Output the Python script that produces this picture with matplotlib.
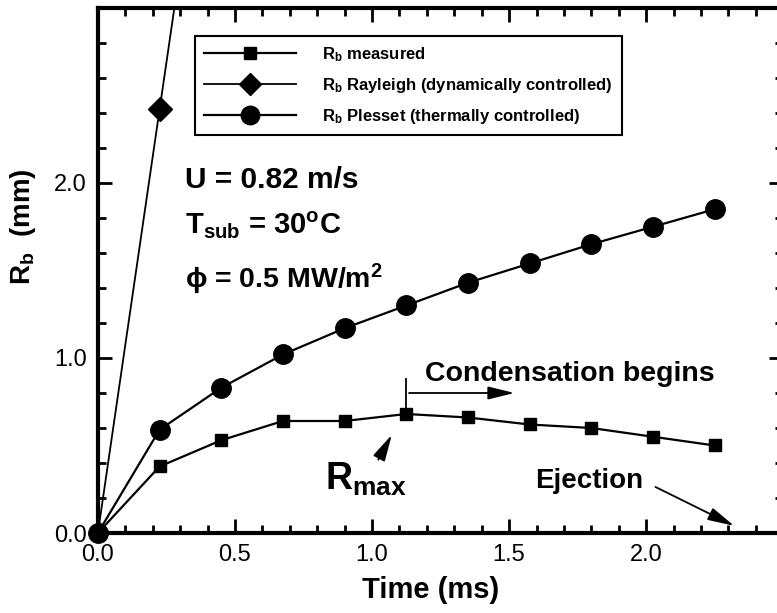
import numpy as np
import matplotlib
matplotlib.use('Agg')
import matplotlib.pyplot as plt
from matplotlib import font_manager
from matplotlib.ticker import MultipleLocator, FormatStrFormatter

# data
time_ms = [0.0, 0.225, 0.45, 0.675, 0.9, 1.125, 1.35, 1.575, 1.8, 2.025, 2.25]
rb_measured = [0.0, 0.38, 0.53, 0.64, 0.64, 0.68, 0.66, 0.62, 0.60, 0.55, 0.50]
rb_plesset = [0.0, 0.59, 0.83, 1.02, 1.17, 1.30, 1.43, 1.54, 1.65, 1.75, 1.85]
time_rayleigh = [0.0, 0.225, 0.45]
rb_rayleigh = [0.0, 2.42, 4.84]

legend_labels = [r'R$_\mathbf{b}$ measured',
                 r'R$_\mathbf{b}$ Rayleigh (dynamically controlled)',
                 r'R$_\mathbf{b}$ Plesset (thermally controlled)']

# pick a narrow sans if there is one
names = {f.name for f in font_manager.fontManager.ttflist}
FONT = 'Liberation Sans Narrow' if 'Liberation Sans Narrow' in names else 'Liberation Sans'
plt.rcParams['font.family'] = [FONT, 'DejaVu Sans']
plt.rcParams['mathtext.fontset'] = 'custom'
plt.rcParams['mathtext.rm'] = FONT
plt.rcParams['mathtext.bf'] = FONT + ':bold'
plt.rcParams['mathtext.it'] = FONT + ':italic'

fig = plt.figure(figsize=(7.77, 6.13), dpi=100)
ax = fig.add_axes([0.126, 0.1305, 1.008 - 0.126, 0.987 - 0.1305])

l1, = ax.plot(time_ms, rb_measured, 'k-', marker='s', ms=9, lw=1.6, clip_on=False, zorder=4)
l2, = ax.plot(time_rayleigh, rb_rayleigh, 'k-', marker='D', ms=12, lw=1.3, zorder=3)
l3, = ax.plot(time_ms, rb_plesset, 'k-', marker='o', ms=14, lw=1.6, clip_on=False, zorder=5)

ax.set_xlim(0, 2.5)
ax.set_ylim(0, 3.0)
ax.set_xticks([0.0, 0.5, 1.0, 1.5, 2.0])
ax.set_yticks([0.0, 1.0, 2.0])
ax.xaxis.set_major_formatter(FormatStrFormatter('%.1f'))
ax.yaxis.set_major_formatter(FormatStrFormatter('%.1f'))
ax.xaxis.set_minor_locator(MultipleLocator(0.1))
ax.yaxis.set_minor_locator(MultipleLocator(0.2))
ax.tick_params(which='both', direction='in', top=True, right=True, width=2)
ax.tick_params(which='major', length=10, labelsize=17, pad=8)
ax.tick_params(which='minor', length=6)
for s in ax.spines.values():
    s.set_linewidth(3)

ax.set_xlabel('Time (ms)', fontsize=21, fontweight='bold')
ax.set_ylabel(r'$\mathbf{R_b}$  (mm)', fontsize=20, fontweight='bold')
ax.xaxis.set_label_coords(0.485, -0.082)
ax.yaxis.set_label_coords(-0.087, 0.583)

leg = ax.legend([l1, l2, l3], legend_labels, loc='upper left',
                bbox_to_anchor=(0.1416, 0.947), borderaxespad=0,
                prop={'size': 12, 'weight': 'bold'},
                frameon=True, fancybox=False, framealpha=1, edgecolor='k',
                handlelength=5.5, handletextpad=1.6, labelspacing=0.72,
                borderpad=0.55, markerscale=0.95)
leg.get_frame().set_linewidth(1.5)

# parameters
ax.text(0.318, 1.97, 'U = 0.82 m/s', fontsize=21.5, fontweight='bold')
ax.text(0.318, 1.71, r'T$_\mathbf{sub}$ = 30$^\mathbf{o}$C', fontsize=21, fontweight='bold')
ax.text(0.318, 1.40, 'ϕ = 0.5 MW/m$^\mathbf{2}$', fontsize=20.5, fontweight='bold')

# condensation marker
ax.plot([1.125, 1.125], [0.69, 0.88], 'k-', lw=1.3)
ax.annotate('', xy=(1.53, 0.80), xytext=(1.125, 0.80),
            arrowprops=dict(arrowstyle='-|>,head_length=0.9,head_width=0.22', lw=1.3, color='k', mutation_scale=18))
ax.text(1.193, 0.87, 'Condensation begins', fontsize=20.5, fontweight='bold')

# R_max
ax.text(0.828, 0.245, r'R$_\mathbf{max}$', fontsize=27, fontweight='bold')
ax.annotate('', xy=(1.077, 0.575), xytext=(1.018, 0.405),
            arrowprops=dict(arrowstyle='-|>,head_length=0.9,head_width=0.22', lw=1.3, color='k', mutation_scale=18))

# ejection
ax.text(1.595, 0.256, 'Ejection', fontsize=20, fontweight='bold')
ax.annotate('', xy=(2.33, 0.034), xytext=(2.025, 0.27),
            arrowprops=dict(arrowstyle='-|>,head_length=0.9,head_width=0.22', lw=1.3, color='k', mutation_scale=18))

fig.savefig('out.png', dpi=100)
